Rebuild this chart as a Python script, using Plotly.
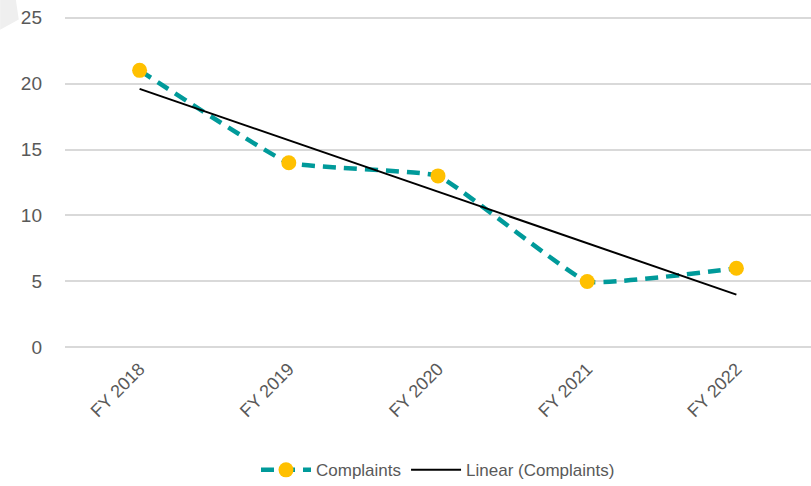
import plotly.graph_objects as go
import numpy as np

# chart data
years = ["FY 2018", "FY 2019", "FY 2020", "FY 2021", "FY 2022"]
complaints = [21, 14, 13, 5, 6]
y_ticks = [0, 5, 10, 15, 20, 25]

# linear trend (least squares, like Excel's "Linear" trendline)
idx = np.arange(len(complaints))
slope, intercept = np.polyfit(idx, complaints, 1)
trend = (slope * idx + intercept).tolist()

fig = go.Figure()

fig.add_trace(go.Scatter(
    x=years, y=complaints,
    mode="lines+markers",
    name="Complaints",
    line=dict(color="#009A9A", width=4.5, dash="13px,8px", shape="spline", smoothing=0.3),
    marker=dict(color="#FFC000", size=15),
))

fig.add_trace(go.Scatter(
    x=years, y=trend,
    mode="lines",
    name="Linear (Complaints)",
    line=dict(color="#000000", width=2),
))

fig.update_layout(
    width=811, height=486,
    margin=dict(l=65, r=0, t=11, b=132, autoexpand=False),
    paper_bgcolor="white",
    plot_bgcolor="white",
    font=dict(family="Liberation Sans, Arial, sans-serif", color="#595959", size=17),
    showlegend=True,
    legend=dict(
        orientation="h",
        x=0.5, xanchor="center",
        y=-0.339, yanchor="middle",
        font=dict(size=17),
        itemwidth=50,
        traceorder="normal",
    ),
    xaxis=dict(
        type="category",
        range=[-0.5, 4.5],
        tickangle=-45,
        showgrid=False,
        showline=False,
        ticks="",
        tickfont=dict(size=18),
    ),
    yaxis=dict(
        range=[-0.5, 25.5],
        tickvals=y_ticks,
        showgrid=True,
        gridcolor="#D9D9D9",
        gridwidth=1.5,
        zeroline=False,
        showline=False,
        ticks="",
        ticklabelstandoff=22,
        tickfont=dict(size=19),
    ),
    shapes=[
        dict(
            type="path", xref="paper", yref="paper",
            path="M -0.087 1.035 L -0.066 1.035 L -0.062 0.975 L -0.087 0.945 Z",
            fillcolor="#EFEFEF", line=dict(width=0),
        )
    ],
)

# drop the default 8px page margin so the figure sits at the window's corner
fig.write_html(
    "out.html",
    config={"displayModeBar": False},
    post_script="document.body.style.margin='0';",
)
